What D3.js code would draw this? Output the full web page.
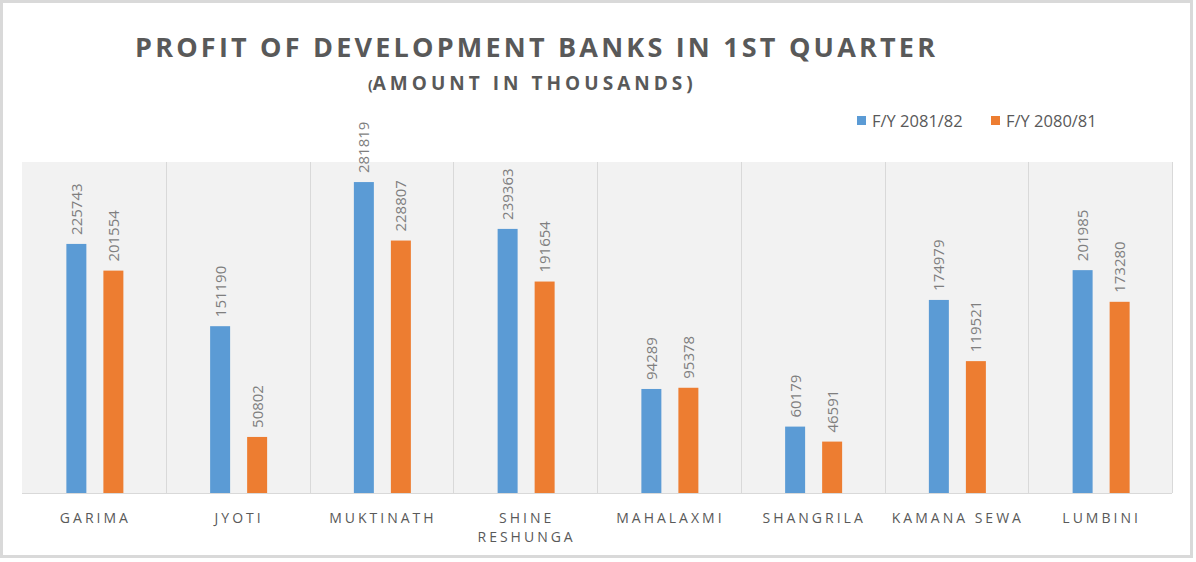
<!DOCTYPE html>
<html>
<head>
<meta charset="utf-8">
<script src="https://cdn.jsdelivr.net/npm/d3@7"></script>
<style>
  body { margin: 0; background: #fff; }
  svg { display: block; }
</style>
</head>
<body>
<svg id="chart"></svg>
<script>
const banks = ['GARIMA', 'JYOTI', 'MUKTINATH', 'SHINE RESHUNGA', 'MAHALAXMI', 'SHANGRILA', 'KAMANA SEWA', 'LUMBINI'];
const seriesNames = ['F/Y 2081/82', 'F/Y 2080/81'];
const fy8182 = [225743, 151190, 281819, 239363, 94289, 60179, 174979, 201985];
const fy8081 = [201554, 50802, 228807, 191654, 95378, 46591, 119521, 173280];
const colors = ['#5b9bd5', '#ed7d31'];

const width = 1196, height = 562;
const plot = { left: 22, right: 1172, top: 162, bottom: 493 };
const textGray = '#595959';

const svg = d3.select('#chart').attr('width', width).attr('height', height);

// outer chart border
svg.append('rect')
    .attr('x', 1.5).attr('y', 1.5)
    .attr('width', 1190).attr('height', 555)
    .attr('fill', '#fff')
    .attr('stroke', '#d9d9d9')
    .attr('stroke-width', 3);

const x0 = d3.scaleBand()
    .domain(banks)
    .range([plot.left, plot.right])
    .padding(0);

const x1 = d3.scaleBand()
    .domain(seriesNames)
    .range([x0.bandwidth() / 2 - 27.5, x0.bandwidth() / 2 + 29.5])
    .paddingInner(0.46)
    .paddingOuter(0);

const y = d3.scaleLinear()
    .domain([0, 300000])
    .range([plot.bottom, plot.top]);

// plot background
svg.append('rect')
    .attr('x', plot.left).attr('y', plot.top)
    .attr('width', plot.right - plot.left)
    .attr('height', plot.bottom - plot.top)
    .attr('fill', '#f2f2f2');

// vertical separators between categories
svg.append('g')
    .selectAll('line')
    .data(banks.slice(1))
    .join('line')
    .attr('x1', (d) => Math.round(x0(d)) + 0.5)
    .attr('x2', (d) => Math.round(x0(d)) + 0.5)
    .attr('y1', plot.top)
    .attr('y2', plot.bottom)
    .attr('stroke', '#d9d9d9')
    .attr('stroke-width', 1);

// right edge + baseline
svg.append('line')
    .attr('x1', plot.right + 0.5).attr('x2', plot.right + 0.5)
    .attr('y1', plot.top).attr('y2', plot.bottom)
    .attr('stroke', '#d9d9d9');
svg.append('line')
    .attr('x1', plot.left).attr('x2', plot.right)
    .attr('y1', plot.bottom + 0.5).attr('y2', plot.bottom + 0.5)
    .attr('stroke', '#d9d9d9');

const rows = banks.map((bank, i) => ({
    bank,
    values: [fy8182[i], fy8081[i]].map((value, j) => ({ bank, series: seriesNames[j], value, color: colors[j] }))
}));

const groups = svg.append('g')
    .selectAll('g')
    .data(rows)
    .join('g')
    .attr('transform', (d) => `translate(${x0(d.bank)},0)`);

groups.selectAll('rect')
    .data((d) => d.values)
    .join('rect')
    .attr('x', (d) => x1(d.series))
    .attr('width', x1.bandwidth())
    .attr('y', (d) => y(d.value))
    .attr('height', (d) => y(0) - y(d.value))
    .attr('fill', (d) => d.color);

groups.selectAll('text')
    .data((d) => d.values)
    .join('text')
    .attr('transform', (d) => `translate(${x1(d.series) + x1.bandwidth() / 2 + 5.5},${y(d.value) - 9}) rotate(-90)`)
    .attr('text-anchor', 'start')
    .style('font-family', '"Open Sans", sans-serif')
    .style('font-size', '15px')
    .style('fill', '#7f7f7f')
    .text((d) => d.value);

// category labels
const catLabels = svg.append('g')
    .selectAll('text')
    .data(banks)
    .join('text')
    .attr('x', (d) => x0(d) + x0.bandwidth() / 2)
    .attr('y', 523)
    .attr('text-anchor', 'middle')
    .style('font-family', '"Open Sans", sans-serif')
    .style('font-size', '14px')
    .style('letter-spacing', '3px')
    .style('fill', textGray);

catLabels.each(function (d) {
    const words = d === 'SHINE RESHUNGA' ? ['SHINE', 'RESHUNGA'] : [d];
    const t = d3.select(this);
    words.forEach((w, i) => {
        t.append('tspan')
            .attr('x', x0(d) + x0.bandwidth() / 2 + 1.5)
            .attr('dy', i === 0 ? 0 : 19)
            .text(w);
    });
});

// title
svg.append('text')
    .attr('x', 135)
    .attr('y', 57)
    .attr('textLength', 800)
    .attr('lengthAdjust', 'spacing')
    .style('font-family', '"Open Sans", sans-serif')
    .style('font-weight', 'bold')
    .style('font-size', '27px')
    .style('fill', textGray)
    .text('PROFIT OF DEVELOPMENT BANKS IN 1ST QUARTER');

const sub = svg.append('text')
    .attr('x', 368)
    .attr('y', 90)
    .style('font-family', '"Open Sans", sans-serif')
    .style('font-weight', 'bold')
    .style('fill', textGray);
sub.append('tspan').style('font-size', '14px').text('(');
sub.append('tspan')
    .attr('textLength', 320)
    .attr('lengthAdjust', 'spacing')
    .style('font-size', '19px')
    .text('AMOUNT IN THOUSANDS)');

// legend
const legend = svg.append('g')
    .selectAll('g')
    .data(seriesNames)
    .join('g')
    .attr('transform', (d, i) => `translate(${857 + i * 134},116)`);

legend.append('rect')
    .attr('width', 9)
    .attr('height', 9)
    .attr('fill', (d, i) => colors[i]);

legend.append('text')
    .attr('x', 15)
    .attr('y', 11)
    .style('font-family', '"Open Sans", sans-serif')
    .style('font-size', '16.5px')
    .style('fill', textGray)
    .text((d) => d);
</script>
</body>
</html>
